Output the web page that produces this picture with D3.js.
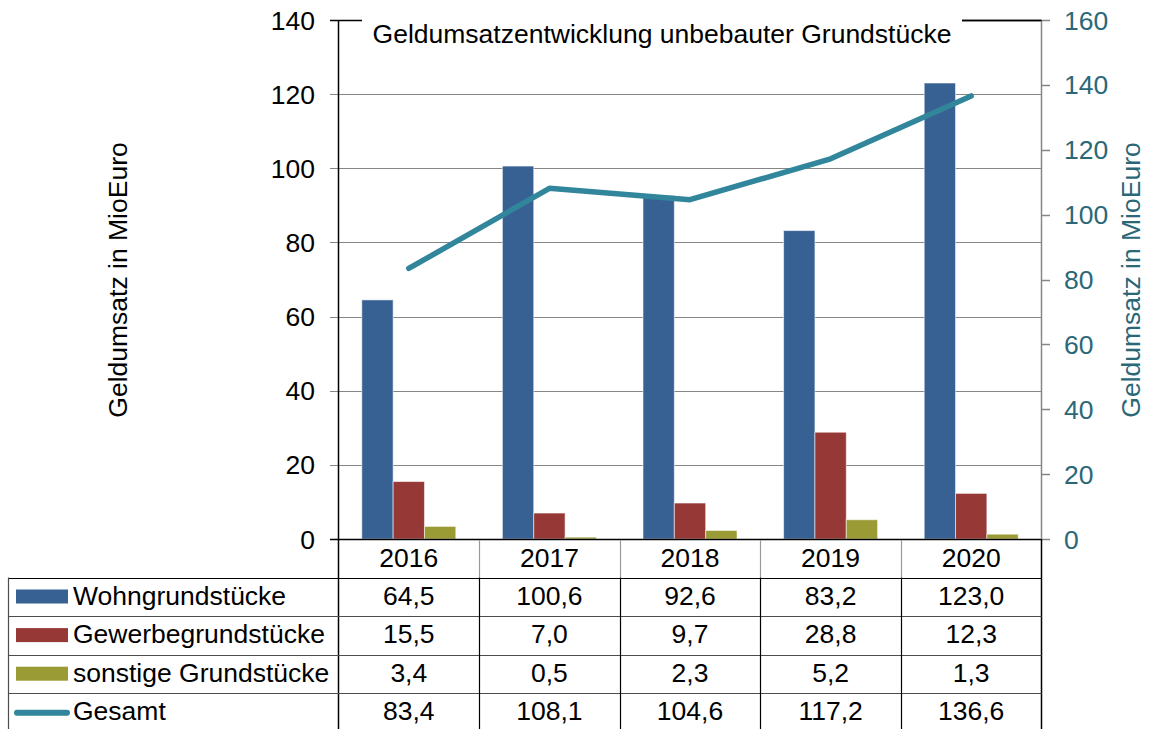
<!DOCTYPE html>
<html>
<head>
<meta charset="utf-8">
<script src="https://cdn.jsdelivr.net/npm/d3@7/dist/d3.min.js"></script>
<style>
  body { margin: 0; background: #fff; }
  svg { font-family: "Liberation Sans", Arial, sans-serif; }
</style>
</head>
<body>
<svg id="chart" width="1150" height="729"></svg>
<script>
var years = ["2016", "2017", "2018", "2019", "2020"];
var seriesNames = ["Wohngrundstücke", "Gewerbegrundstücke", "sonstige Grundstücke"];
var wohn = [64.5, 100.6, 92.6, 83.2, 123.0];
var gewerbe = [15.5, 7.0, 9.7, 28.8, 12.3];
var sonstige = [3.4, 0.5, 2.3, 5.2, 1.3];
var gesamt = [83.4, 108.1, 104.6, 117.2, 136.6];
var leftTicks = [0, 20, 40, 60, 80, 100, 120, 140];
var rightTicks = [0, 20, 40, 60, 80, 100, 120, 140, 160];
var title = "Geldumsatzentwicklung unbebauter Grundstücke";
var axisTitle = "Geldumsatz in MioEuro";

function makeChart(id) {
    var svg = d3.select("#" + id);
    var colors = ["#386193", "#953836", "#9b9b35"];
    var lineColor = "#31869c";
    var teal = "#2a6878";
    var fontSize = "26.5px";
    var values = [wohn, gewerbe, sonstige];

    var x = d3.scaleBand().domain(years).range([338.5, 1041.5]);
    var inner = d3.scaleBand().domain([0, 1, 2]).range([0, 94]);
    var groupOffset = (x.bandwidth() - 94) / 2;
    var yLeft = d3.scaleLinear().domain([0, 140]).range([539, 20]);
    var yRight = d3.scaleLinear().domain([0, 160]).range([539, 20]);

    // Gridlines (left scale), extending past axis as ticks
    svg.append('g').selectAll('line')
        .data(leftTicks.filter(function (t) { return t > 0; }))
        .join('line')
        .attr('x1', 330).attr('x2', 1041.5)
        .attr('y1', function (d) { return Math.round(yLeft(d)) + 0.5; })
        .attr('y2', function (d) { return Math.round(yLeft(d)) + 0.5; })
        .attr('stroke', function (d) { return d == 140 ? '#000' : '#868686'; })
        .attr('stroke-width', function (d) { return d == 140 ? 1.5 : 1; });

    // Title box covers the top gridline
    svg.append('rect')
        .attr('x', 362).attr('y', 0).attr('width', 600).attr('height', 45)
        .attr('fill', '#fff');
    svg.append('text')
        .text(title)
        .attr('x', 662).attr('y', 43)
        .attr('text-anchor', 'middle')
        .attr('font-size', fontSize)
        .attr('fill', '#000');

    // Bars
    var groups = svg.append('g').selectAll('g')
        .data(years)
        .join('g')
        .attr('transform', function (d) { return "translate(" + (x(d) + groupOffset) + ",0)"; });
    groups.selectAll('rect')
        .data(function (d, i) { return values.map(function (s, k) { return {k: k, v: s[i]}; }); })
        .join('rect')
        .attr('x', function (d) { return inner(d.k); })
        .attr('width', inner.bandwidth())
        .attr('y', function (d) { return yLeft(d.v); })
        .attr('height', function (d) { return 539 - yLeft(d.v); })
        .attr('fill', function (d) { return colors[d.k]; })
        .attr('stroke', 'rgba(255,255,255,0.55)')
        .attr('stroke-width', 1);

    // Line on right axis
    var line = d3.line()
        .x(function (d, i) { return x(years[i]) + x.bandwidth() / 2; })
        .y(function (d) { return yRight(d); });
    svg.append('path')
        .datum(gesamt)
        .attr('d', line)
        .attr('fill', 'none')
        .attr('stroke', lineColor)
        .attr('stroke-width', 5.5)
        .attr('stroke-linecap', 'round')
        .attr('stroke-linejoin', 'round');

    // Left axis
    svg.append('line')
        .attr('x1', 338.5).attr('x2', 338.5).attr('y1', 20).attr('y2', 729)
        .attr('stroke', '#000').attr('stroke-width', 1.5);
    svg.append('line')
        .attr('x1', 330).attr('x2', 1041.5).attr('y1', 539.5).attr('y2', 539.5)
        .attr('stroke', '#000').attr('stroke-width', 1.5);
    svg.append('g').selectAll('text')
        .data(leftTicks)
        .join('text')
        .text(function (d) { return d; })
        .attr('x', 315)
        .attr('y', function (d) { return yLeft(d); })
        .attr('dy', '0.36em')
        .attr('text-anchor', 'end')
        .attr('font-size', fontSize);
    svg.append('text')
        .text(axisTitle)
        .attr('transform', "translate(127, 280) rotate(-90)")
        .attr('text-anchor', 'middle')
        .attr('font-size', fontSize);

    // Right axis
    svg.append('line')
        .attr('x1', 1041.5).attr('x2', 1041.5).attr('y1', 20).attr('y2', 539)
        .attr('stroke', '#868686').attr('stroke-width', 1.5);
    svg.append('g').selectAll('line')
        .data(rightTicks)
        .join('line')
        .attr('x1', 1041.5).attr('x2', 1050)
        .attr('y1', function (d) { return Math.round(yRight(d)) + 0.5; })
        .attr('y2', function (d) { return Math.round(yRight(d)) + 0.5; })
        .attr('stroke', '#868686').attr('stroke-width', 1.5);
    svg.append('line')
        .attr('x1', 962).attr('x2', 1041.5).attr('y1', 20.5).attr('y2', 20.5)
        .attr('stroke', '#000').attr('stroke-width', 1.5);
    svg.append('g').selectAll('text')
        .data(rightTicks)
        .join('text')
        .text(function (d) { return d; })
        .attr('x', 1064)
        .attr('y', function (d) { return yRight(d); })
        .attr('dy', '0.36em')
        .attr('font-size', fontSize)
        .attr('fill', teal);
    svg.append('text')
        .text(axisTitle)
        .attr('transform', "translate(1140, 280) rotate(-90)")
        .attr('text-anchor', 'middle')
        .attr('font-size', fontSize)
        .attr('fill', teal);

    // Data table
    var rowTop = 577.5, rowH = 38.6;
    var table = svg.append('g');
    // year row
    table.selectAll('line.yearsep')
        .data(years.slice(1))
        .join('line')
        .attr('class', 'yearsep')
        .attr('x1', function (d) { return Math.round(x(d)) + 0.5; })
        .attr('x2', function (d) { return Math.round(x(d)) + 0.5; })
        .attr('y1', 540).attr('y2', rowTop)
        .attr('stroke', '#9a9a9a').attr('stroke-width', 1.2);
    table.selectAll('text.year')
        .data(years)
        .join('text')
        .attr('class', 'year')
        .text(function (d) { return d; })
        .attr('x', function (d) { return x(d) + x.bandwidth() / 2; })
        .attr('y', 566.5)
        .attr('text-anchor', 'middle')
        .attr('font-size', fontSize);
    table.append('line')
        .attr('x1', 1041.5).attr('x2', 1041.5).attr('y1', 539).attr('y2', 729)
        .attr('stroke', '#000').attr('stroke-width', 1.5);

    // horizontal row lines
    table.selectAll('line.rowline')
        .data(d3.range(5))
        .join('line')
        .attr('class', 'rowline')
        .attr('x1', 8).attr('x2', 1041.5)
        .attr('y1', function (d) { return Math.round(rowTop + d * rowH) + 0.5; })
        .attr('y2', function (d) { return Math.round(rowTop + d * rowH) + 0.5; })
        .attr('stroke', function (d) { return d == 0 ? '#000' : '#4d4d4d'; })
        .attr('stroke-width', 1.2);
    table.append('line')
        .attr('x1', 8.5).attr('x2', 8.5).attr('y1', rowTop).attr('y2', 729)
        .attr('stroke', '#4d4d4d').attr('stroke-width', 1.2);
    table.selectAll('line.colsep')
        .data(years.slice(1))
        .join('line')
        .attr('class', 'colsep')
        .attr('x1', function (d) { return Math.round(x(d)) + 0.5; })
        .attr('x2', function (d) { return Math.round(x(d)) + 0.5; })
        .attr('y1', rowTop).attr('y2', 729)
        .attr('stroke', '#000').attr('stroke-width', 1.2);

    var rows = [
        {name: seriesNames[0], vals: wohn, color: colors[0], kind: 'bar'},
        {name: seriesNames[1], vals: gewerbe, color: colors[1], kind: 'bar'},
        {name: seriesNames[2], vals: sonstige, color: colors[2], kind: 'bar'},
        {name: "Gesamt", vals: gesamt, color: lineColor, kind: 'line'}
    ];
    var fmt = function (v) { return d3.format(".1f")(v).replace(".", ","); };
    var rowG = table.selectAll('g.row')
        .data(rows)
        .join('g')
        .attr('class', 'row')
        .attr('transform', function (d, i) { return "translate(0," + (rowTop + i * rowH) + ")"; });
    rowG.filter(function (d) { return d.kind == 'bar'; })
        .append('rect')
        .attr('x', 16).attr('y', 12).attr('width', 52).attr('height', 14)
        .attr('fill', function (d) { return d.color; });
    rowG.filter(function (d) { return d.kind == 'line'; })
        .append('line')
        .attr('x1', 17).attr('x2', 67).attr('y1', 19.5).attr('y2', 19.5)
        .attr('stroke', function (d) { return d.color; })
        .attr('stroke-width', 6)
        .attr('stroke-linecap', 'round');
    rowG.append('text')
        .text(function (d) { return d.name; })
        .attr('x', 73).attr('y', 27)
        .attr('font-size', fontSize);
    rowG.selectAll('text.val')
        .data(function (d) { return d.vals; })
        .join('text')
        .attr('class', 'val')
        .text(fmt)
        .attr('x', function (d, i) { return x(years[i]) + x.bandwidth() / 2; })
        .attr('y', 27)
        .attr('text-anchor', 'middle')
        .attr('font-size', fontSize);
}

makeChart('chart');
</script>
</body>
</html>
